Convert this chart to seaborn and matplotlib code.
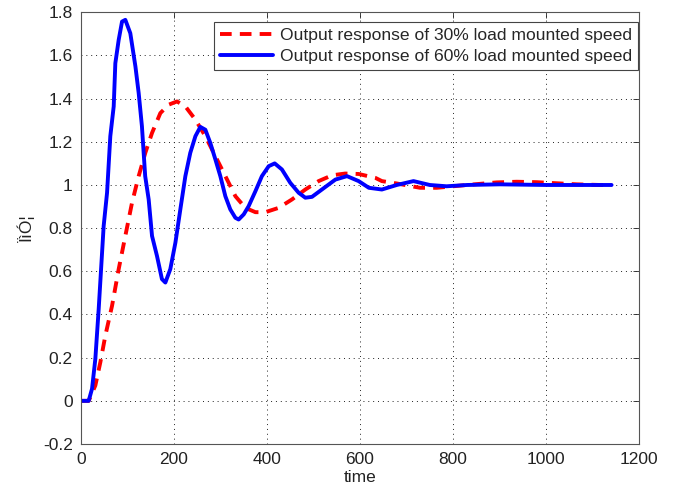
import matplotlib
matplotlib.use("Agg")
import matplotlib.pyplot as plt
import seaborn as sns
import pandas as pd

# ---- data ----
x_30 = [0, 16.5, 30.8, 41.6, 52.3, 66.7, 81, 95.3, 109.7, 124, 138.3, 152.7, 170.6,
        188.5, 206.4, 224.4, 245.9, 267.4, 289, 310.4, 332, 353.4, 375, 396.4, 425,
        453.7, 482.4, 511, 540, 568, 597, 633, 647, 679, 729, 765, 830, 894, 937, 980,
        1023, 1066, 1116, 1141]
y_30 = [0, 0, 0.071, 0.179, 0.302, 0.44, 0.61, 0.764, 0.918, 1.041, 1.149, 1.241, 1.333,
        1.372, 1.387, 1.364, 1.303, 1.226, 1.133, 1.041, 0.948, 0.894, 0.874, 0.874, 0.894,
        0.933, 0.979, 1.018, 1.045, 1.053, 1.051, 1.033, 1.018, 1.007, 0.987, 0.987, 1.0,
        1.012, 1.015, 1.013, 1.008, 1.003, 1.0, 1.0]

x_60 = [0, 16.5, 23.7, 30.8, 38, 48.7, 56, 63, 70.3, 73.8, 81, 88.2, 95.3, 106, 117, 124,
        131, 138, 145.5, 152.7, 163.4, 174, 181.4, 192, 203, 213.6, 224.4, 235, 246,
        256.6, 267.4, 278, 289, 299.6, 310.4, 321, 332, 339, 350, 360.5, 375, 389, 403.6,
        416.5, 432, 450, 468, 482.4, 496.7, 518, 547, 572, 597, 619, 647, 679, 715, 750,
        786, 830, 900, 1000, 1100, 1141]
y_60 = [0, 0, 0.056, 0.194, 0.425, 0.81, 0.964, 1.226, 1.364, 1.564, 1.672, 1.757, 1.765,
        1.703, 1.549, 1.426, 1.272, 1.041, 0.933, 0.764, 0.671, 0.564, 0.548, 0.61, 0.733,
        0.887, 1.041, 1.149, 1.226, 1.269, 1.256, 1.195, 1.118, 1.041, 0.948, 0.887, 0.848,
        0.84, 0.864, 0.902, 0.971, 1.041, 1.087, 1.1, 1.072, 1.01, 0.964, 0.941, 0.945,
        0.979, 1.025, 1.041, 1.018, 0.987, 0.979, 1.0, 1.018, 1.0, 0.994, 1.0, 1.003, 1.0,
        1.0, 1.0]

label_30 = "Output response of 30% load mounted speed"
label_60 = "Output response of 60% load mounted speed"
x_ticks = [0, 200, 400, 600, 800, 1000, 1200]
y_ticks = [-0.2, 0, 0.2, 0.4, 0.6, 0.8, 1, 1.2, 1.4, 1.6, 1.8]
y_tick_labels = ["-0.2", "0", "0.2", "0.4", "0.6", "0.8", "1", "1.2", "1.4", "1.6", "1.8"]
x_label = "time"
y_label = "ÏìÓ¦"

df = pd.concat([
    pd.DataFrame({"x": x_30, "y": y_30, "series": label_30}),
    pd.DataFrame({"x": x_60, "y": y_60, "series": label_60}),
], ignore_index=True)

sns.set_theme(style="white")
plt.rcParams["font.family"] = ["Liberation Sans", "DejaVu Sans"]

fig = plt.figure(figsize=(6.74, 4.94), dpi=100)
ax = fig.add_axes([0.1202, 0.1012, 0.8279, 0.8739])

sns.lineplot(data=df, x="x", y="y", hue="series", style="series",
             hue_order=[label_30, label_60], style_order=[label_30, label_60],
             palette={label_30: "#ff0000", label_60: "#0000ff"},
             dashes={label_30: (3.0, 2.1), label_60: ""},
             estimator=None, sort=False, linewidth=2.8, ax=ax)
for ln in ax.get_lines():
    ln.set_solid_joinstyle("round")
    ln.set_dash_joinstyle("round")

ax.set_xlim(0, 1200)
ax.set_ylim(-0.2, 1.8)
ax.set_xticks(x_ticks)
ax.set_yticks(y_ticks)
ax.set_yticklabels(y_tick_labels)
ax.grid(True, linestyle=(0, (1, 4)), color="#222222", linewidth=0.7)
ax.tick_params(direction="in", top=True, right=True, length=4, width=0.6,
               labelsize=12.5, colors="#222222", pad=6)
for s in ax.spines.values():
    s.set_color("#555555")
    s.set_linewidth(0.8)
ax.set_xlabel(x_label, fontsize=12.5, color="#222222", labelpad=2)
ax.set_ylabel(y_label, fontsize=12.5, color="#222222", labelpad=6)

leg = ax.legend(loc="upper right", bbox_to_anchor=(0.998, 0.978), borderaxespad=0,
                fontsize=12.6, frameon=True, fancybox=False, framealpha=1,
                edgecolor="#444444", handlelength=3.0, labelspacing=0.3,
                borderpad=0.35, handletextpad=0.4)
leg.get_frame().set_linewidth(0.8)

fig.savefig("out.png", dpi=100)
